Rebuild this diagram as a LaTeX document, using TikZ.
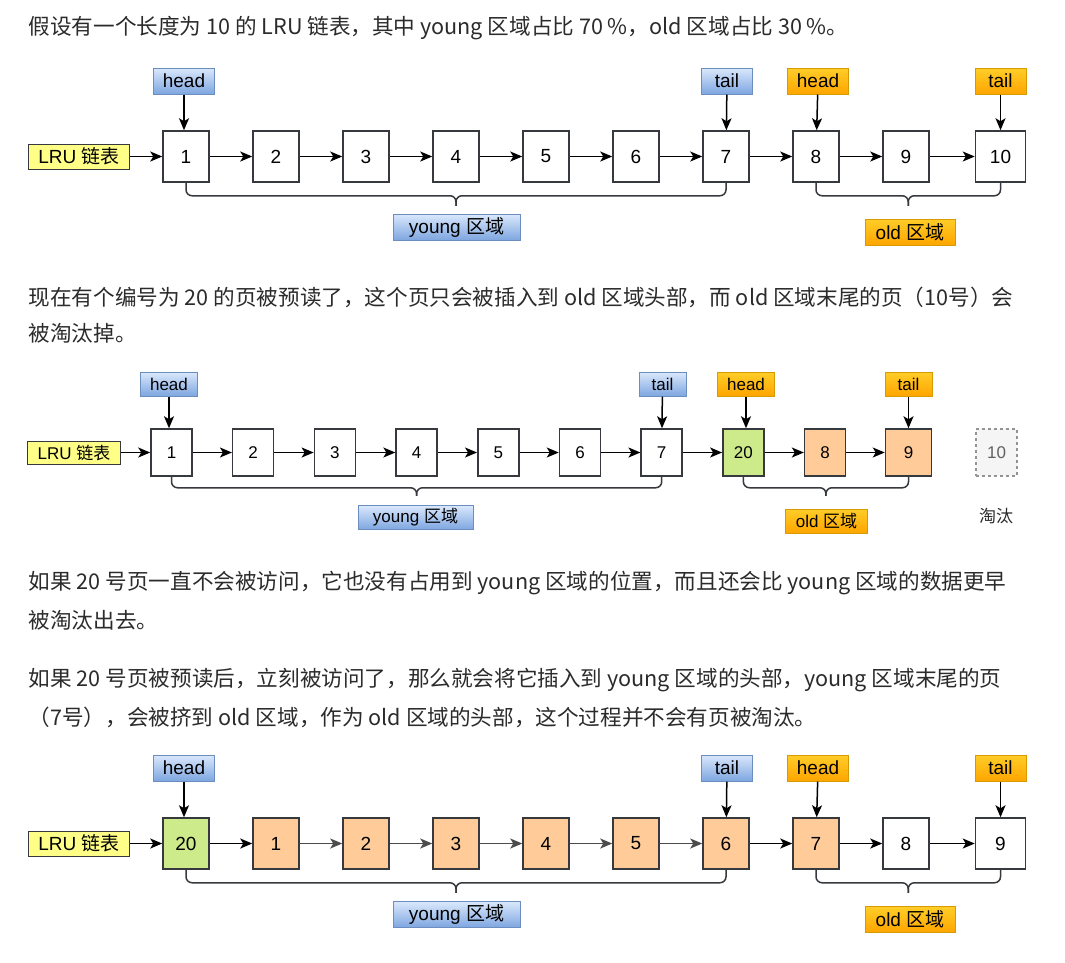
\documentclass[tikz,border=0pt]{standalone}
\usepackage{fontspec}
\usepackage{tikz}
\usepackage{xcolor}
\usetikzlibrary{arrows.meta,calc}
\setmainfont{Liberation Sans}
\newfontfamily\cjk{Noto Sans CJK SC}
\definecolor{ptrbluetop}{HTML}{DAE8FC}
\definecolor{ptrbluebot}{HTML}{7EA6E0}
\definecolor{ptrblueline}{HTML}{6C8EBF}
\definecolor{ptrorangetop}{HTML}{FFCD28}
\definecolor{ptrorangebot}{HTML}{FFA500}
\definecolor{ptrorangeline}{HTML}{D79B00}
\definecolor{lruyellow}{HTML}{FFFF88}
\definecolor{pageline}{HTML}{36393D}
\definecolor{pageorange}{HTML}{FFCC99}
\definecolor{pagegreen}{HTML}{CDEB8B}
\definecolor{paratext}{HTML}{2B2B2B}
\newcommand\parafont{\cjk\fontsize{21.6}{26}\selectfont}
\newcommand\diagfont{\fontsize{19}{22}\selectfont}
\newcommand\smalldiagfont{\fontsize{17}{20}\selectfont}
\tikzstyle{para_line} =
  [ anchor=west
  , inner sep=0pt
  , font=\parafont
  , text=paratext
  ]
\tikzstyle{page} =
  [ rectangle
  , draw=pageline
  , fill=white
  , minimum width=46pt
  , minimum height=51pt
  , inner sep=0pt
  , font=\diagfont
  ]
\tikzstyle{small_page} =
  [ minimum width=41pt
  , minimum height=47pt
  , font=\smalldiagfont
  ]
\tikzstyle{young_page} =
  [ fill=pageorange
  ]
\tikzstyle{fresh_page} =
  [ fill=pagegreen
  ]
\tikzstyle{evicted_page} =
  [ dashed
  , draw=gray!85
  , fill=gray!8
  , text=gray!75!black
  , line width=1.1pt
  ]
\tikzstyle{ptr_blue} =
  [ rectangle
  , draw=ptrblueline
  , top color=ptrbluetop
  , bottom color=ptrbluebot
  , line width=1pt
  , minimum width=51pt
  , minimum height=26pt
  , inner xsep=9pt
  , inner ysep=0pt
  , font=\diagfont
  ]
\tikzstyle{ptr_orange} =
  [ ptr_blue
  , draw=ptrorangeline
  , top color=ptrorangetop
  , bottom color=ptrorangebot
  ]
\tikzstyle{small_tag} =
  [ minimum width=47pt
  , minimum height=24pt
  , inner xsep=10pt
  , font=\smalldiagfont
  ]
\tikzstyle{lru_tag} =
  [ rectangle
  , draw=pageline
  , fill=lruyellow
  , line width=1pt
  , minimum height=25pt
  , inner xsep=10pt
  , inner ysep=0pt
  , font=\diagfont
  ]
\tikzstyle{brace_line} =
  [ draw=pageline
  , rounded corners=6pt
  ]
\newcommand\regionbrace[4]{%
  \coordinate (brace_mid) at ($(#1.south)!0.5!(#2.south)$);
  \draw[brace_line] (#1.south) |- ([yshift=-#3]brace_mid) -- ([yshift=-#4]brace_mid);
  \draw[brace_line] (#2.south) |- ([yshift=-#3]brace_mid) -- ([yshift=-#4]brace_mid);
}

\begin{document}
\begin{tikzpicture}[x=1pt, y=-1pt, >={Stealth[length=12pt,width=10pt,inset=3pt]}, line width=1.5pt]
    \fill[white] (0,0) rectangle (1065,962);
    \useasboundingbox (0,0) rectangle (1065,962);

    \node[para_line] (intro)      at (28, 28)  {假设有一个长度为 10 的 LRU 链表，其中 young 区域占比 70 \%，old 区域占比 30 \%。};
    \node[para_line] (prefetch_a) at (28, 297) {现在有个编号为 20 的页被预读了，这个页只会被插入到 old 区域头部，而 old 区域末尾的页（10号）会};
    \node[para_line] (prefetch_b) at (28, 333) {被淘汰掉。};
    \node[para_line] (unused_a)   at (28, 583) {如果 20 号页一直不会被访问，它也没有占用到 young 区域的位置，而且还会比 young 区域的数据更早};
    \node[para_line] (unused_b)   at (28, 620) {被淘汰出去。};
    \node[para_line] (accessed_a) at (28, 680) {如果 20 号页被预读后，立刻被访问了，那么就会将它插入到 young 区域的头部，young 区域末尾的页};
    \node[para_line] (accessed_b) at (28, 717) {（7号），会被挤到 old 区域，作为 old 区域的头部，这个过程并不会有页被淘汰。};

    \node[lru_tag] (lru_a) at (79, 156.5) {LRU {\cjk 链表}};
    \foreach \i in {1,...,9}
      \node[page] (page_a\i) at ({186+90*(\i-1)}, 156.5) {\i};
    \node[page, minimum width=50pt] (page_a10) at (1000.5, 156.5) {10};
    \draw[->] (lru_a) -- (page_a1);
    \foreach \i [evaluate=\i as \j using int(\i+1)] in {1,...,9}
      \draw[->] (page_a\i) -- (page_a\j);

    \node[ptr_blue]   (head_young_a) at (184, 81)    {head};
    \node[ptr_blue]   (tail_young_a) at (727, 81)    {tail};
    \node[ptr_orange] (head_old_a)   at (818, 81)    {head};
    \node[ptr_orange] (tail_old_a)   at (1000.5, 81) {tail};
    \draw[->] (head_young_a) -- (head_young_a |- page_a1.north);
    \draw[->] (tail_young_a) -- (page_a7);
    \draw[->] (head_old_a)   -- (page_a8);
    \draw[->] (tail_old_a)   -- (page_a10);

    \regionbrace{page_a1}{page_a7}{13pt}{23pt}
    \regionbrace{page_a8}{page_a10}{13pt}{23pt}
    \node[ptr_blue, minimum width=127pt]  (young_a) at (456.5, 227) {young {\cjk 区域}};
    \node[ptr_orange, minimum width=90pt] (old_a)   at (910, 232)   {old {\cjk 区域}};

    \node[lru_tag, small_tag, minimum width=0pt, minimum height=23pt] (lru_b) at (74, 452.5) {LRU {\cjk 链表}};
    \foreach \i in {1,...,7}
      \node[page, small_page] (page_b\i) at ({171.5+81.7*(\i-1)}, 452.5) {\i};
    \node[page, small_page, fresh_page] (page_b8) at (743.4, 452.5) {20};
    \node[page, small_page, young_page] (page_b9) at (825.1, 452.5) {8};
    \node[page, small_page, young_page, minimum width=46pt] (page_b10) at (908.5, 452.5) {9};
    \node[page, small_page, evicted_page] (evicted_b) at (996.5, 452.5) {10};
    \node[font=\smalldiagfont\cjk, text=paratext] (evicted_note) at (996, 516) {淘汰};
    \draw[->] (lru_b) -- (page_b1);
    \foreach \i [evaluate=\i as \j using int(\i+1)] in {1,...,9}
      \draw[->] (page_b\i) -- (page_b\j);

    \node[ptr_blue, small_tag]   (head_young_b) at (169, 384)   {head};
    \node[ptr_blue, small_tag]   (tail_young_b) at (662.5, 384) {tail};
    \node[ptr_orange, small_tag] (head_old_b)   at (746, 384)   {head};
    \node[ptr_orange, small_tag] (tail_old_b)   at (908.5, 384) {tail};
    \draw[->] (head_young_b) -- (head_young_b |- page_b1.north);
    \draw[->] (tail_young_b) -- (page_b7);
    \draw[->] (head_old_b)   -- (head_old_b |- page_b8.north);
    \draw[->] (tail_old_b)   -- (page_b10);

    \regionbrace{page_b1}{page_b7}{11pt}{19pt}
    \regionbrace{page_b8}{page_b10}{11pt}{19pt}
    \node[ptr_blue, small_tag, minimum width=115pt]  (young_b) at (415.5, 517.5) {young {\cjk 区域}};
    \node[ptr_orange, small_tag, minimum width=81pt] (old_b)   at (826.5, 521)   {old {\cjk 区域}};

    \node[lru_tag] (lru_c) at (79, 843.5) {LRU {\cjk 链表}};
    \node[page, fresh_page] (page_c1) at (186, 843.5) {20};
    \foreach \i [evaluate=\i as \n using int(\i-1)] in {2,...,8}
      \node[page, young_page] (page_c\i) at ({186+90*(\i-1)}, 843.5) {\n};
    \node[page] (page_c9) at (906, 843.5) {8};
    \node[page, minimum width=50pt] (page_c10) at (1000.5, 843.5) {9};
    \draw[->] (lru_c) -- (page_c1);
    \draw[->] (page_c1) -- (page_c2);
    \foreach \i [evaluate=\i as \j using int(\i+1)] in {2,...,6}
      \draw[->, draw=black!70, fill=black!70] (page_c\i) -- (page_c\j);
    \foreach \i [evaluate=\i as \j using int(\i+1)] in {7,...,9}
      \draw[->] (page_c\i) -- (page_c\j);

    \node[ptr_blue]   (head_young_c) at (184, 768)    {head};
    \node[ptr_blue]   (tail_young_c) at (727, 768)    {tail};
    \node[ptr_orange] (head_old_c)   at (818, 768)    {head};
    \node[ptr_orange] (tail_old_c)   at (1000.5, 768) {tail};
    \draw[->] (head_young_c) -- (head_young_c |- page_c1.north);
    \draw[->] (tail_young_c) -- (page_c7);
    \draw[->] (head_old_c)   -- (page_c8);
    \draw[->] (tail_old_c)   -- (page_c10);

    \regionbrace{page_c1}{page_c7}{13pt}{23pt}
    \regionbrace{page_c8}{page_c10}{13pt}{23pt}
    \node[ptr_blue, minimum width=127pt]  (young_c) at (456.5, 914.5) {young {\cjk 区域}};
    \node[ptr_orange, minimum width=90pt] (old_c)   at (910, 919.5)   {old {\cjk 区域}};
\end{tikzpicture}
\end{document}
